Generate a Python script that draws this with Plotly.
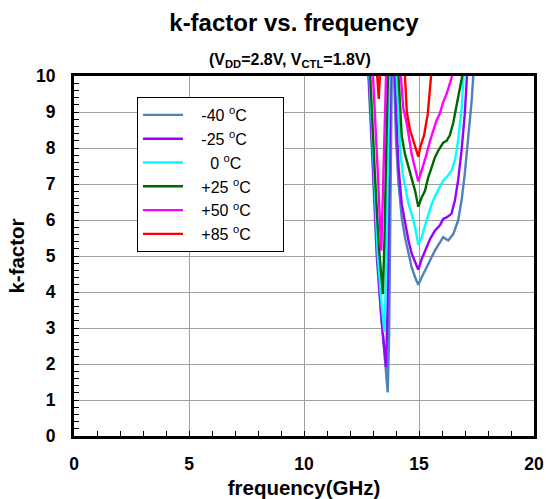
import plotly.graph_objects as go

# ---- data ----
temps = ["-40", "-25", "0", "+25", "+50", "+85"]
legend_labels = ["-40 <sup>o</sup>C", "-25 <sup>o</sup>C", "\u00a0\u00a00 <sup>o</sup>C",
                 "+25 <sup>o</sup>C", "+50 <sup>o</sup>C", "+85 <sup>o</sup>C"]
colors = ["#4F81BD", "#9900FF", "#00FFFF", "#006600", "#FF00FF", "#FF0000"]

freq_m40 = [12.76, 12.80, 13.00, 13.16, 13.35, 13.52, 13.64, 13.70, 13.75, 13.79, 13.82, 13.87,
            13.90, 13.92, 14.00, 14.11, 14.25, 14.39, 14.54, 14.68, 14.83, 14.97, 15.12, 15.26,
            15.48, 15.69, 15.91, 16.05, 16.27, 16.49, 16.70, 16.85, 16.99, 17.14, 17.29, 17.36, 17.40]
k_m40 = [10.3, 10.0, 7.3, 5.0, 3.4, 2.1, 1.21, 2.8, 5.5, 8.5, 10.3, 11.0,
         10.3, 10.0, 8.2, 7.0, 6.07, 5.52, 5.06, 4.69, 4.41, 4.20, 4.41, 4.60,
         4.87, 5.15, 5.38, 5.52, 5.43, 5.61, 5.98, 6.54, 7.28, 8.20, 9.31, 10.0, 10.4]

freq_m25 = [12.78, 12.82, 13.02, 13.18, 13.36, 13.48, 13.57, 13.63, 13.69, 13.74, 13.77, 13.86,
            13.93, 13.96, 14.03, 14.11, 14.25, 14.39, 14.54, 14.68, 14.83, 14.97, 15.12, 15.26,
            15.48, 15.69, 15.91, 16.05, 16.20, 16.41, 16.56, 16.70, 16.85, 16.99, 17.09, 17.12]
k_m25 = [10.3, 10.0, 7.3, 5.0, 3.3, 2.4, 1.91, 3.5, 6.0, 8.8, 10.3, 11.0,
         10.3, 10.0, 8.67, 7.46, 6.44, 5.90, 5.44, 5.07, 4.82, 4.62, 4.92, 5.15,
         5.47, 5.70, 5.85, 6.03, 6.07, 6.17, 6.54, 7.10, 7.93, 8.94, 10.0, 10.4]

freq_0 = [12.80, 12.85, 13.05, 13.21, 13.38, 13.50, 13.57, 13.64, 13.70, 13.72, 13.85,
          14.00, 14.03, 14.11, 14.18, 14.29, 14.39, 14.54, 14.68, 14.83, 14.97, 15.12, 15.26,
          15.40, 15.55, 15.69, 15.91, 16.05, 16.20, 16.41, 16.56, 16.70, 16.85, 16.95, 16.98]
k_0 = [10.3, 10.0, 7.3, 5.0, 3.6, 2.88, 4.5, 7.0, 9.5, 10.3, 11.0,
       10.3, 10.0, 8.94, 8.0, 7.28, 6.92, 6.46, 6.17, 5.80, 5.31, 5.52, 5.85,
       6.17, 6.44, 6.65, 6.90, 7.10, 7.18, 7.37, 7.65, 8.20, 9.10, 10.0, 10.4]

freq_p25 = [12.83, 12.88, 13.08, 13.25, 13.43, 13.50, 13.57, 13.63, 13.66, 13.85,
            14.08, 14.11, 14.18, 14.25, 14.39, 14.54, 14.68, 14.83, 14.97, 15.12, 15.26,
            15.40, 15.55, 15.69, 15.84, 16.05, 16.20, 16.34, 16.49, 16.63, 16.77, 16.88, 16.92]
k_p25 = [10.3, 10.0, 7.3, 5.3, 3.94, 5.5, 7.8, 9.7, 10.3, 11.0,
         10.3, 10.0, 9.05, 8.33, 7.83, 7.46, 7.10, 6.81, 6.37, 6.63, 6.81,
         7.18, 7.46, 7.74, 7.93, 8.15, 8.20, 8.35, 8.70, 9.20, 9.68, 10.0, 10.4]

freq_p50 = [12.95, 13.00, 13.21, 13.30, 13.36, 13.42, 13.50, 13.56, 13.58, 13.90,
            14.18, 14.21, 14.32, 14.47, 14.58, 14.68, 14.78, 14.87, 14.97, 15.07, 15.19,
            15.33, 15.48, 15.62, 15.76, 15.90, 16.05, 16.20, 16.34, 16.44, 16.48]
k_p50 = [10.3, 10.0, 7.28, 6.0, 5.15, 6.5, 8.5, 10.0, 10.3, 11.0,
         10.3, 10.0, 9.1, 8.67, 8.2, 7.83, 7.56, 7.28, 7.07, 7.28, 7.51,
         7.83, 8.2, 8.48, 8.76, 8.95, 9.27, 9.5, 9.78, 10.0, 10.4]

freq_p85 = [13.15, 13.18, 13.25, 13.30, 13.33, 13.85,
            14.36, 14.39, 14.47, 14.61, 14.78, 14.97, 15.07, 15.22, 15.38, 15.55, 15.58]
k_p85 = [10.3, 10.0, 9.36, 10.0, 10.3, 11.0,
         10.3, 10.0, 9.0, 8.5, 8.15, 7.76, 8.06, 8.35, 8.94, 10.0, 10.4]

freqs = [freq_m40, freq_m25, freq_0, freq_p25, freq_p50, freq_p85]
kvals = [k_m40, k_m25, k_0, k_p25, k_p50, k_p85]

x_ticks = [0, 5, 10, 15, 20]
y_ticks = [0, 1, 2, 3, 4, 5, 6, 7, 8, 9, 10]

FONT = "Liberation Sans, Arial, sans-serif"
NB = "\u00a0"

fig = go.Figure()
for i in range(len(temps)):
    fig.add_trace(go.Scatter(
        x=freqs[i], y=kvals[i], mode="lines",
        name=NB * 3 + legend_labels[i] + NB * 6,
        line=dict(color=colors[i], width=2.4),
    ))

fig.update_layout(
    width=546, height=499,
    margin=dict(l=74, r=12, t=76, b=63),
    paper_bgcolor="white", plot_bgcolor="white",
    font=dict(family=FONT, color="black"),
    title=dict(text="<b>k-factor vs. frequency</b>", x=294 / 546, xanchor="center",
               y=1 - 23 / 499, yanchor="middle", font=dict(size=24, family=FONT)),
    showlegend=True,
    legend=dict(x=(137 - 74) / 460, y=(436 - 97) / 360, xanchor="left", yanchor="top",
                bgcolor="white", bordercolor="black", borderwidth=1,
                font=dict(size=16, family=FONT), tracegroupgap=0,
                itemwidth=40),
    annotations=[dict(text="<b>(V<sub>DD</sub>=2.8V, V<sub>CTL</sub>=1.8V)</b>",
                      xref="paper", yref="paper", x=(290 - 74) / 460, y=(436 - 61) / 360,
                      xanchor="center", yanchor="middle", showarrow=False,
                      font=dict(size=16, family=FONT))],
)

fig.update_xaxes(
    range=[0, 20], tickvals=x_ticks, showgrid=True, gridcolor="#A0A0A0", gridwidth=1,
    showline=True, linecolor="black", linewidth=3, mirror=True,
    ticks="inside", ticklen=5, tickcolor="black", zeroline=False, automargin=False,
    minor=dict(dtick=1, ticks="inside", ticklen=5, tickcolor="black", showgrid=False),
    tickfont=dict(size=17.5, family=FONT, weight="bold"), ticklabelstandoff=10,
    title=dict(text="<b>frequency(GHz)</b>", font=dict(size=20.5, family=FONT), standoff=8),
)
fig.update_yaxes(
    range=[0, 10], tickvals=y_ticks, showgrid=True, gridcolor="#A0A0A0", gridwidth=1,
    showline=True, linecolor="black", linewidth=3, mirror=True,
    ticks="inside", ticklen=5, tickcolor="black", zeroline=False, automargin=False,
    minor=dict(dtick=0.2, ticks="inside", ticklen=5, tickcolor="black", showgrid=False),
    tickfont=dict(size=17.5, family=FONT, weight="bold"), ticklabelstandoff=12,
    title=dict(text="<b>k-factor</b>", font=dict(size=20.5, family=FONT), standoff=6),
)

fig.write_html("out.html", config={"displayModeBar": False},
               post_script="document.body.style.margin='0px';document.body.style.padding='0px';")
